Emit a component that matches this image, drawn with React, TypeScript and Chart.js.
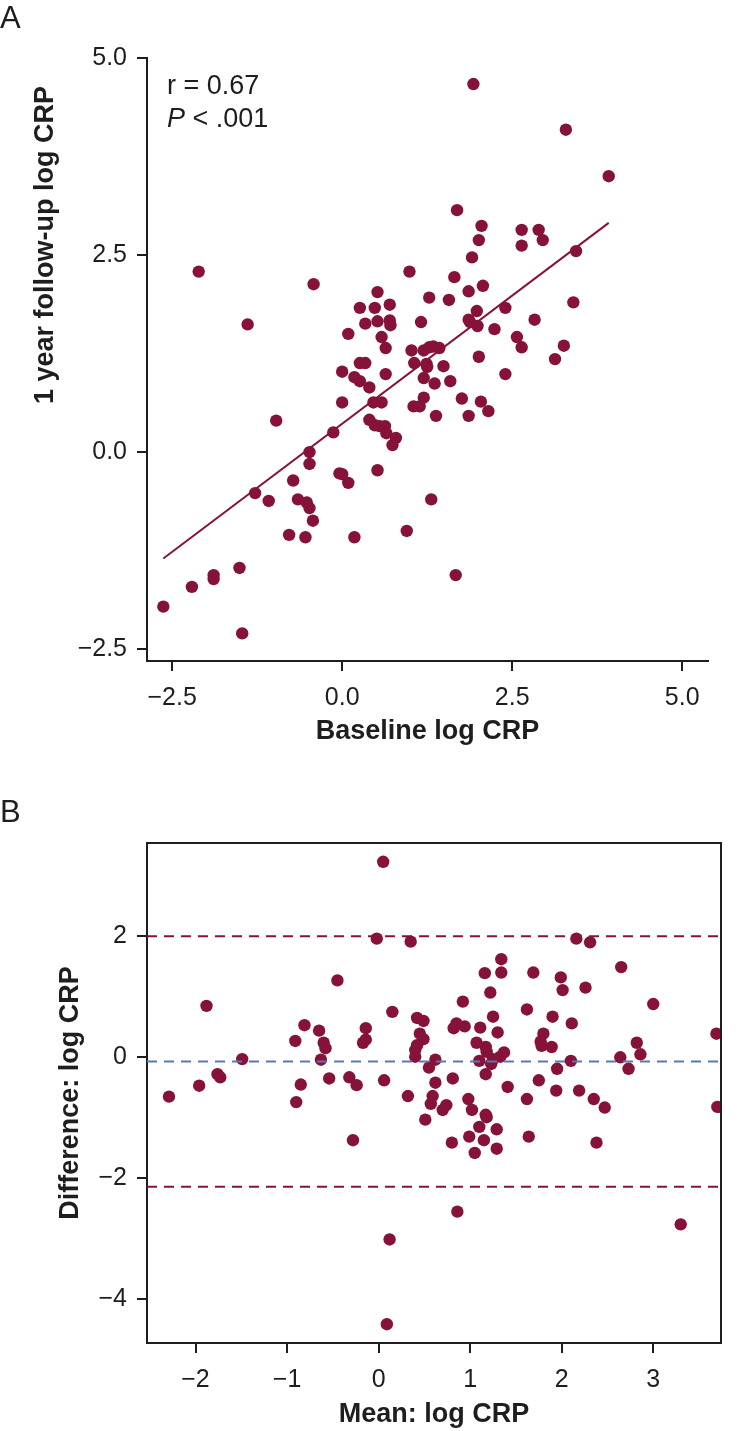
import React, { useEffect, useRef } from 'react';
import { Chart, registerables } from 'chart.js';

Chart.register(...registerables);

// ---------- Panel A: baseline vs 1-year follow-up ----------
const baselineLogCRP = [
  -2.63, -2.21, -1.89, -1.89, -1.51, -1.47, -2.11, -1.39, -1.28, -1.08,
  -0.97, -0.78, -0.72, -0.65, -0.54, -0.52, -0.48, -0.43, -0.48, -0.48,
  -0.42, -0.13, -0.04, 0.0, 0.09, 0.0, 0.0, 0.09, 0.18, 0.18,
  0.26, 0.26, 0.34, 0.26, 0.34, 0.4, 0.4, 0.48, 0.55, 0.63,
  0.65, 0.46, 0.58, 0.48, 0.52, 0.52, 0.58, 0.64, 0.64, 0.7,
  0.7, 0.71, 0.52, 0.79, 0.74, 0.95, 0.99, 1.02, 1.06, 1.05,
  1.14, 1.16, 1.2, 1.28, 1.34, 1.43, 1.24, 1.25, 1.2, 1.2,
  1.28, 1.31, 1.36, 1.38, 1.49, 1.59, 1.57, 1.65, 1.69, 1.67,
  1.76, 1.86, 1.86, 1.86, 1.88, 1.99, 1.91, 1.93, 1.98, 2.01,
  2.05, 2.07, 2.01, 2.04, 2.15, 2.24, 2.4, 2.4, 2.57, 2.64,
  2.64, 2.64, 2.83, 2.89, 2.95, 3.13, 3.26, 3.29, 3.4, 3.44,
  3.92,
];
const followUpLogCRP = [
  -1.96, -1.71, -1.56, -1.61, -1.47, -2.3, 2.29, 1.62, -0.52, -0.62,
  0.4, -1.05, -0.36, -0.6, -1.08, -0.64, -0.71, -0.87, 0.0, -0.15,
  2.13, 0.25, -0.27, -0.28, -0.39, 1.02, 0.63, 1.5, 0.95, -1.08,
  0.9, 1.13, 1.13, 1.83, 1.63, 0.82, 0.41, 0.34, 0.33, 0.33,
  0.24, 0.63, 0.63, 1.83, 2.03, 1.66, 1.46, 1.32, 0.99, 1.87,
  1.67, 1.61, -0.23, 0.18, 0.09, -1.0, 2.29, 1.29, 1.13, 0.58,
  0.58, 1.65, 1.29, 1.33, 1.34, 1.32, 1.12, 1.08, 0.94, 0.69,
  1.96, -0.6, 0.87, 0.46, 1.09, 0.9, 1.93, 2.22, 3.07, -1.56,
  0.68, 0.46, 2.04, 1.68, 1.65, 1.6, 2.47, 4.67, 1.79, 2.69,
  2.87, 2.11, 1.21, 0.64, 0.52, 1.56, 1.83, 0.99, 1.46, 1.33,
  2.82, 2.62, 1.68, 2.82, 2.69, 1.18, 1.35, 4.09, 1.9, 2.55,
  3.5,
];
const fitIntercept = 0.36;
const fitSlope = 0.65;
const fitXStart = -2.63;
const fitXEnd = 3.92;
const xTicksA = [-2.5, 0, 2.5, 5.0];
const yTicksA = [-2.5, 0, 2.5, 5.0];
const corrText = 'r = 0.67';
const pText = '< .001';
const xTitleA = 'Baseline log CRP';
const yTitleA = '1 year follow-up log CRP';

// ---------- Panel B: Bland-Altman ----------
const meanLogCRP = [
  0.05, -0.02, 0.35, -0.45, -1.88, 0.15, 0.42, 0.49, -0.81, -0.65,
  -0.91, -0.14, -0.14, -0.17, -0.6, -0.58, 0.45, 0.49, 0.42, 0.4,
  0.4, 0.62, 0.55, 0.62, -1.49, -0.63, -1.76, -1.73, -1.96, -0.85,
  -0.54, -0.32, -0.24, 0.06, 2.16, 2.31, 1.34, 1.16, 1.34, 1.69,
  2.65, 1.99, 2.01, 2.26, 1.22, 0.92, 3.0, 1.62, 1.9, 1.25,
  2.11, 0.85, 0.82, 0.94, 1.11, 1.3, 3.69, 1.8, 1.77, 1.78,
  1.89, 1.07, 1.17, 1.18, 1.37, 1.33, 1.25, 1.23, 1.1, 2.82,
  2.86, 2.64, 2.73, 2.1, 1.95, 1.17, 0.81, 1.41, 1.75, 1.94,
  2.19, -2.29, -0.9, 0.32, 0.59, 0.57, 0.74, 0.7, 0.51, 0.98,
  1.02, 1.17, 1.18, 1.1, 1.29, 0.99, 1.15, 1.05, 1.29, 0.8,
  -0.28, 1.62, 1.64, 2.35, 2.47, 2.38, 3.7, 0.86, 0.12, 3.3,
  0.09,
];
const diffLogCRP = [
  3.23, 1.96, 1.91, 1.27, 0.85, 0.75, 0.65, 0.6, 0.53, 0.44,
  0.27, 0.48, 0.29, 0.24, 0.24, 0.15, 0.39, 0.3, 0.2, 0.12,
  0.01, -0.04, -0.17, -0.42, -0.03, -0.04, -0.28, -0.33, -0.47, -0.45,
  -0.35, -0.33, -0.46, -0.38, 1.96, 1.9, 1.62, 1.39, 1.4, 1.4,
  1.49, 1.32, 1.11, 1.15, 1.07, 0.92, 0.88, 0.79, 0.67, 0.67,
  0.56, 0.56, 0.48, 0.51, 0.49, 0.41, 0.39, 0.39, 0.26, 0.19,
  0.17, 0.24, 0.17, 0.09, 0.08, 0.01, -0.03, -0.11, -0.06, 0.24,
  0.05, 0.0, -0.19, -0.06, -0.19, -0.28, -0.35, -0.49, -0.38, -0.55,
  -0.55, -0.65, -0.74, -0.64, -0.64, -0.77, -0.79, -0.87, -1.03, -0.69,
  -0.87, -0.95, -0.99, -1.15, -1.19, -1.31, -1.37, -1.58, -1.51, -1.41,
  -1.37, -0.69, -1.31, -0.69, -0.83, -1.41, -0.82, -2.55, -3.01, -2.76,
  -4.41,
];
const meanDifference = -0.07;
const upperLimit = 2.0;
const lowerLimit = -2.14;
const xTicksB = [-2, -1, 0, 1, 2, 3];
const yTicksB = [-4, -2, 0, 2];

// ---------- styling ----------
const FONT = "'Liberation Sans', Arial, Helvetica, sans-serif";
const MAROON = '#86123a';
const BLUE = '#5b78ad';
const AXIS = '#1e1e1e';
const TEXT = '#1e1e1e';
const TICK_SIZE = 25;
const TITLE_SIZE = 27;

const fmtSigned = (v: number, digits: number) =>
  (v < 0 ? '\u2212' : '') + Math.abs(v).toFixed(digits);

function axisBase(ticks: number[], digits: number, tickPad: number) {
  return {
    type: 'linear' as const,
    afterBuildTicks: (s: any) => {
      s.ticks = ticks.map((v) => ({ value: v }));
    },
    grid: {
      drawOnChartArea: false,
      drawTicks: true,
      tickLength: 10,
      color: AXIS,
      lineWidth: 2,
    },
    border: { display: true, color: AXIS, width: 2 },
    ticks: {
      color: TEXT,
      font: { family: FONT, size: TICK_SIZE },
      padding: tickPad,
      autoSkip: false,
      maxRotation: 0,
      callback: (v: any) => fmtSigned(Number(v), digits),
    },
  };
}

const annotationPlugin = {
  id: 'corrText',
  afterDraw(chart: any) {
    const { ctx, chartArea } = chart;
    ctx.save();
    ctx.fillStyle = TEXT;
    ctx.textBaseline = 'alphabetic';
    ctx.textAlign = 'left';
    ctx.font = `27px ${FONT}`;
    const x = chartArea.left + 20;
    ctx.fillText(corrText, x, chartArea.top + 36);
    ctx.font = `italic 27px ${FONT}`;
    ctx.fillText('P', x, chartArea.top + 69);
    const w = ctx.measureText('P ').width;
    ctx.font = `27px ${FONT}`;
    ctx.fillText(pText, x + w, chartArea.top + 69);
    // y-axis title (placed in the upper part of the axis as in the original)
    ctx.save();
    ctx.font = `bold ${TITLE_SIZE}px ${FONT}`;
    ctx.textAlign = 'center';
    ctx.textBaseline = 'middle';
    ctx.translate(46, chartArea.top + 187);
    ctx.rotate(-Math.PI / 2);
    ctx.fillText(yTitleA, 0, 0);
    ctx.restore();
    ctx.restore();
  },
};

const framePlugin = {
  id: 'frame',
  afterDraw(chart: any) {
    const { ctx, chartArea } = chart;
    ctx.save();
    ctx.strokeStyle = AXIS;
    ctx.lineWidth = 2;
    ctx.beginPath();
    ctx.moveTo(chartArea.left, chartArea.top);
    ctx.lineTo(chartArea.right, chartArea.top);
    ctx.lineTo(chartArea.right, chartArea.bottom);
    ctx.stroke();
    ctx.restore();
  },
};

function PanelA() {
  const ref = useRef<HTMLCanvasElement>(null);
  useEffect(() => {
    if (!ref.current) return;
    const points = baselineLogCRP.map((x, i) => ({ x, y: followUpLogCRP[i] }));
    const fit = [fitXStart, fitXEnd].map((x) => ({ x, y: fitIntercept + fitSlope * x }));
    const chart = new Chart(ref.current, {
      type: 'scatter',
      data: {
        datasets: [
          {
            type: 'line',
            data: fit,
            borderColor: MAROON,
            borderWidth: 2,
            pointRadius: 0,
            fill: false,
          } as any,
          {
            data: points,
            backgroundColor: MAROON,
            borderWidth: 0,
            pointRadius: 6.2,
          },
        ],
      },
      options: {
        responsive: false,
        animation: false,
        devicePixelRatio: 1,
        layout: { padding: { left: 0, right: 34, top: 58, bottom: 12 } },
        plugins: { legend: { display: false }, tooltip: { enabled: false } },
        scales: {
          x: {
            ...axisBase(xTicksA, 1, 12),
            min: -2.87,
            max: 5.38,
            afterFit: (s: any) => {
              s.height = 87;
            },
            title: {
              display: true,
              text: xTitleA,
              color: TEXT,
              font: { family: FONT, size: TITLE_SIZE, weight: 'bold' },
              padding: { top: 0, bottom: 0 },
            },
          },
          y: {
            ...axisBase(yTicksA, 1, 10),
            min: -2.65,
            max: 5.0,
            afterFit: (s: any) => {
              s.width = 147;
            },
            title: { display: false },
          },
        },
      } as any,
      plugins: [annotationPlugin],
    });
    return () => chart.destroy();
  }, []);
  return <canvas ref={ref} width={742} height={760} style={{ display: 'block' }} />;
}

function PanelB() {
  const ref = useRef<HTMLCanvasElement>(null);
  useEffect(() => {
    if (!ref.current) return;
    const xMin = -2.53;
    const xMax = 3.74;
    const points = meanLogCRP.map((x, i) => ({ x, y: diffLogCRP[i] }));
    const hline = (y: number) => [
      { x: xMin, y },
      { x: xMax, y },
    ];
    const dashed = (y: number, color: string) =>
      ({
        type: 'line',
        data: hline(y),
        borderColor: color,
        borderWidth: 2,
        borderDash: [10, 7],
        pointRadius: 0,
        fill: false,
      } as any);
    const chart = new Chart(ref.current, {
      type: 'scatter',
      data: {
        datasets: [
          dashed(upperLimit, MAROON),
          dashed(meanDifference, BLUE),
          dashed(lowerLimit, MAROON),
          {
            data: points,
            backgroundColor: MAROON,
            borderWidth: 0,
            pointRadius: 6.2,
          },
        ],
      },
      options: {
        responsive: false,
        animation: false,
        devicePixelRatio: 1,
        layout: { padding: { left: 0, right: 21, top: 83, bottom: 0 } },
        plugins: { legend: { display: false }, tooltip: { enabled: false } },
        scales: {
          x: {
            ...axisBase(xTicksB, 0, 12),
            min: xMin,
            max: xMax,
            afterFit: (s: any) => {
              s.height = 88;
            },
            title: {
              display: true,
              text: 'Mean: log CRP',
              color: TEXT,
              font: { family: FONT, size: TITLE_SIZE, weight: 'bold' },
              padding: { top: 0, bottom: 0 },
            },
          },
          y: {
            ...axisBase(yTicksB, 0, 10),
            min: -4.72,
            max: 3.54,
            afterFit: (s: any) => {
              s.width = 147;
            },
            title: {
              display: true,
              text: 'Difference: log CRP',
              color: TEXT,
              font: { family: FONT, size: TITLE_SIZE, weight: 'bold' },
              padding: { top: 54, bottom: 0 },
            },
          },
        },
      } as any,
      plugins: [framePlugin],
    });
    return () => chart.destroy();
  }, []);
  return <canvas ref={ref} width={742} height={671} style={{ display: 'block' }} />;
}

const letterStyle: React.CSSProperties = {
  position: 'absolute',
  left: 0,
  fontFamily: FONT,
  fontSize: 31,
  lineHeight: '31px',
  color: TEXT,
};

export default function App() {
  return (
    <div
      style={{
        position: 'absolute',
        left: 0,
        top: 0,
        width: 742,
        height: 1431,
        background: '#fff',
        overflow: 'hidden',
      }}
    >
      <div style={{ position: 'absolute', left: 0, top: 0 }}>
        <PanelA />
      </div>
      <div style={{ position: 'absolute', left: 0, top: 760 }}>
        <PanelB />
      </div>
      <div style={{ ...letterStyle, top: 2 }}>A</div>
      <div style={{ ...letterStyle, top: 796 }}>B</div>
    </div>
  );
}
